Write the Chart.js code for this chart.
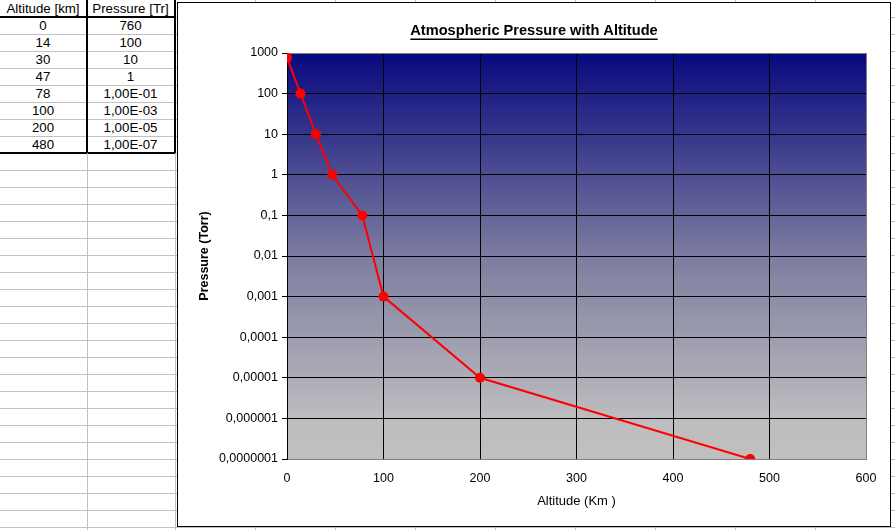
<!DOCTYPE html>
<html>
<head>
<meta charset="utf-8">
<script src="https://cdn.jsdelivr.net/npm/chart.js@4/dist/chart.umd.min.js"></script>
<style>
  html, body { margin: 0; padding: 0; background: #fff; }
  body { width: 895px; height: 530px; overflow: hidden; position: relative;
         font-family: "Liberation Sans", Arial, sans-serif; }
  #sheet { position: absolute; left: 0; top: 0; }
  .cell { position: absolute; box-sizing: border-box; font-size: 13.3px; line-height: 17px;
          text-align: center; color: #000; border-right: 1px solid #c0c0c0;
          border-bottom: 1px solid #c0c0c0; white-space: nowrap; overflow: hidden; }
  .thickR { border-right: 2px solid #000; }
  .thickB { border-bottom: 2px solid #000; }
  #chartBox { position: absolute; left: 177px; top: 2px; width: 714px; height: 525px;
              box-sizing: border-box; border: 1px solid #000; background: #fff; }
  #chart { display: block; }
</style>
</head>
<body>
<div id="sheet"></div>
<div id="chartBox"><canvas id="chart" width="712" height="523"></canvas></div>
<script>
// Data from the sheet
const headers = ['Altitude [km]', 'Pressure [Tr]'];
const altitudeKm = [0, 14, 30, 47, 78, 100, 200, 480];
const pressureTorr = [760, 100, 10, 1, 1e-1, 1e-3, 1e-5, 1e-7];

// Axis ticks
const xTicks = [0, 100, 200, 300, 400, 500, 600];
const yTicks = [1e-7, 1e-6, 1e-5, 1e-4, 1e-3, 1e-2, 1e-1, 1, 10, 100, 1000];
const yTickLabels = ['0,0000001', '0,000001', '0,00001', '0,0001', '0,001', '0,01', '0,1', '1', '10', '100', '1000'];

const FONT = '"Liberation Sans", Arial, sans-serif';

// Excel style number display, e.g. 1,00E-03
function excelNumber(v) {
    if (v >= 1) return String(v);
    const [m, e] = v.toExponential(2).split('e');
    const exp = parseInt(e, 10);
    const sign = exp < 0 ? '-' : '+';
    return m.replace('.', ',') + 'E' + sign + String(Math.abs(exp)).padStart(2, '0');
}

// Build spreadsheet grid
function buildSheet() {
    const sheet = document.getElementById('sheet');
    const colWidths = [87, 88, 80, 80, 80, 80, 80, 80, 80, 80, 80];
    const rowH = 17;
    const rows = 32;
    let html = '';
    for (let r = 0; r < rows; r++) {
        let x = 0;
        for (let c = 0; c < colWidths.length; c++) {
            let cls = 'cell';
            let text = '';
            if (c < 2 && r <= altitudeKm.length) cls += ' thickR';
            if (c < 2 && (r === 0 || r === altitudeKm.length)) cls += ' thickB';
            if (r === 0 && c < 2) text = headers[c];
            if (r > 0 && r <= altitudeKm.length) {
                if (c === 0) text = altitudeKm[r - 1];
                if (c === 1) text = excelNumber(pressureTorr[r - 1]);
            }
            html += `<div class="${cls}" style="left:${x}px;top:${r * rowH}px;width:${colWidths[c] + 1}px;height:${rowH + 1}px">${text}</div>`;
            x += colWidths[c];
        }
    }
    sheet.innerHTML = html;
}
buildSheet();

// Gradient plot background
const plotBackground = {
    id: 'plotBackground',
    beforeDraw(chart) {
        const { ctx, chartArea: a } = chart;
        ctx.save();
        ctx.fillStyle = '#fff';
        ctx.fillRect(0, 0, chart.width, chart.height);
        const g = ctx.createLinearGradient(0, a.top, 0, a.bottom);
        g.addColorStop(0, '#08087f');
        g.addColorStop(0.5, '#7c7ca0');
        g.addColorStop(0.9, '#bdbdbf');
        g.addColorStop(1, '#c0c0c0');
        ctx.fillStyle = g;
        ctx.fillRect(a.left, a.top, a.right - a.left, a.bottom - a.top);
        ctx.restore();
    }
};

// Underlined chart title
const titleUnderline = {
    id: 'titleUnderline',
    afterDraw(chart) {
        const t = chart.titleBlock;
        if (!t) return;
        const ctx = chart.ctx;
        const opts = t.options;
        ctx.save();
        ctx.font = `bold ${opts.font.size}px ${FONT}`;
        const w = ctx.measureText(opts.text).width;
        const cx = (t.left + t.right) / 2;
        const y = t.top + opts.padding.top + opts.font.size * 1.2 / 2 + 8.5;
        ctx.strokeStyle = '#000';
        ctx.lineWidth = 1.5;
        ctx.beginPath();
        ctx.moveTo(cx - w / 2, y);
        ctx.lineTo(cx + w / 2, y);
        ctx.stroke();
        ctx.restore();
    }
};

const ctx = document.getElementById('chart').getContext('2d');
new Chart(ctx, {
    type: 'line',
    data: {
        datasets: [{
            label: 'Pressure',
            data: altitudeKm.map((a, i) => ({ x: a, y: pressureTorr[i] })),
            borderColor: '#ff0000',
            backgroundColor: '#ff0000',
            borderWidth: 2,
            pointRadius: 5,
            pointBorderWidth: 0,
            pointBackgroundColor: '#ff0000',
            tension: 0,
            fill: false
        }]
    },
    options: {
        responsive: false,
        animation: false,
        devicePixelRatio: 1,
        // equal side padding keeps the title centred on the whole chart
        layout: { padding: { left: 24, right: 24, top: 0, bottom: 0 } },
        plugins: {
            legend: { display: false },
            tooltip: { enabled: false },
            title: {
                display: true,
                text: 'Atmospheric Pressure with Altitude',
                color: '#000',
                font: { family: FONT, size: 14.6, weight: 'bold' },
                padding: { top: 19, bottom: 13.5 }
            }
        },
        scales: {
            x: {
                type: 'linear',
                min: 0,
                max: 600,
                afterBuildTicks: (axis) => { axis.ticks = xTicks.map(v => ({ value: v })); },
                afterFit: (axis) => { axis.height = 67; },
                grid: {
                    drawTicks: false,
                    lineWidth: 1,
                    color: (c) => (c.tick && c.tick.value === 600) ? '#808080' : '#000'
                },
                border: { color: '#808080', width: 1 },
                ticks: {
                    color: '#000',
                    padding: 12,
                    maxRotation: 0,
                    autoSkip: false,
                    font: { family: FONT, size: 12.5 }
                },
                title: {
                    display: true,
                    text: 'Altitude (Km )',
                    color: '#000',
                    font: { family: FONT, size: 13 },
                    padding: { top: 0, bottom: 17 }
                }
            },
            y: {
                type: 'logarithmic',
                min: 1e-7,
                max: 1000,
                afterBuildTicks: (axis) => { axis.ticks = yTicks.map(v => ({ value: v })); },
                afterFit: (axis) => { axis.width = 85; },
                grid: {
                    drawTicks: true,
                    tickLength: 5,
                    tickColor: '#000',
                    lineWidth: 1,
                    color: (c) => (c.tick && (c.tick.value === 1000 || c.tick.value === 1e-7)) ? '#808080' : '#000'
                },
                border: { color: '#000', width: 1 },
                ticks: {
                    color: '#000',
                    padding: 4,
                    autoSkip: false,
                    font: { family: FONT, size: 12.5 },
                    callback: (value) => {
                        const i = yTicks.indexOf(value);
                        return i >= 0 ? yTickLabels[i] : '';
                    }
                },
                title: {
                    display: true,
                    text: 'Pressure (Torr)',
                    color: '#000',
                    font: { family: FONT, size: 12.5, weight: 'bold' },
                    padding: { top: -4.5, bottom: 0 }
                }
            }
        }
    },
    plugins: [plotBackground, titleUnderline]
});
</script>
</body>
</html>
